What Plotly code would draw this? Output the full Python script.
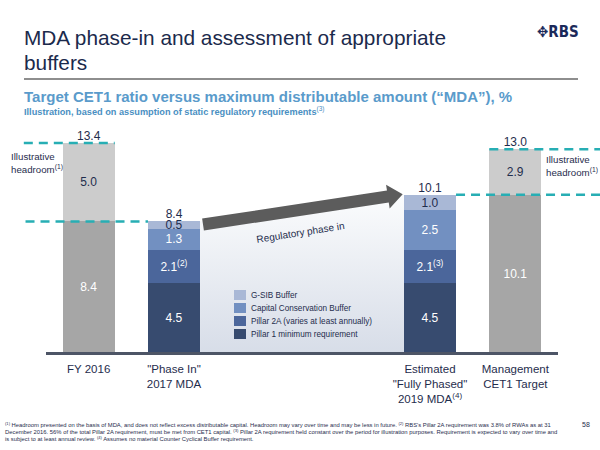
import math
import plotly.graph_objects as go

# ---------------- data ----------------
categories = ["FY 2016", "\"Phase In\"<br>2017 MDA",
              "Estimated<br>\"Fully Phased\"<br>2019 MDA<sup>(4)</sup>",
              "Management<br>CET1 Target"]
x_pos = [0, 1, 4, 5]

grey_x = [0, 5]
cet1_base = [8.4, 10.1]
headroom = [5.0, 2.9]

mda_x = [1, 4]
pillar1 = [4.5, 4.5]
pillar2a = [2.1, 2.1]
pillar2a_notes = ["(2)", "(3)"]
ccb = [1.3, 2.5]
gsib = [0.5, 1.0]

legend_names = ["G-SIB Buffer", "Capital Conservation Buffer",
                "Pillar 2A (varies at least annually)", "Pillar 1 minimum requirement"]

# ---------------- style ----------------
FONT = "Liberation Sans, Arial, sans-serif"
NAVY = "#1f2d4d"
C_P1 = "#374b6f"
C_P2 = "#4b669b"
C_CCB = "#7290c1"
C_GSIB = "#a9b8d6"
C_GREY_D = "#a6a6a6"
C_GREY_L = "#cccccc"
TEAL = "#27aeb4"
W = 0.61
XMIN, XMAX, YMAX = -0.5, 5.5, 15.0
ML, MR, MT, MB = 46, 42, 118, 97
PW, PH = 600 - ML - MR, 450 - MT - MB


def PX(px):
    return (px - ML) / PW


def PY(py):
    return (450 - MB - py) / PH


def xp(x):
    return (x - XMIN) / (XMAX - XMIN)


def yp(y):
    return y / YMAX


mda_tot = [a + b + c + d for a, b, c, d in zip(pillar1, pillar2a, ccb, gsib)]
grey_tot = [a + b for a, b in zip(cet1_base, headroom)]
totals = {x: t for x, t in zip(grey_x, grey_tot)}
totals.update({x: t for x, t in zip(mda_x, mda_tot)})

fig = go.Figure()

# gradient panel between phase-in and fully phased bars
fig.add_trace(go.Scatter(
    x=[mda_x[0] + W / 2, mda_x[1] - W / 2, mda_x[1] - W / 2, mda_x[0] + W / 2],
    y=[0, 0, mda_tot[1], mda_tot[0]],
    fill="toself", mode="lines", line=dict(width=0),
    fillgradient=dict(type="vertical",
                      colorscale=[[0, "#d7dde8"], [1, "#fbfcfd"]]),
    hoverinfo="skip", showlegend=False))


def bar(x, y, color, text, tcolor, name):
    fig.add_trace(go.Bar(
        x=x, y=y, width=W, marker=dict(color=color, line=dict(width=0)),
        text=text, textposition="inside", insidetextanchor="middle",
        textangle=0, constraintext="none",
        textfont=dict(family=FONT, size=12, color=tcolor),
        name=name, showlegend=False, hoverinfo="skip"))


bar(grey_x, cet1_base, C_GREY_D, [f"{v:.1f}" for v in cet1_base], "white", "CET1")
bar(grey_x, headroom, C_GREY_L, [f"{v:.1f}" for v in headroom], NAVY, "Headroom")
bar(mda_x, pillar1, C_P1, [f"{v:.1f}" for v in pillar1], "white", legend_names[3])
bar(mda_x, pillar2a, C_P2,
    [f"{v:.1f}<sup>{n}</sup>" for v, n in zip(pillar2a, pillar2a_notes)], "white",
    legend_names[2])
bar(mda_x, ccb, C_CCB, [f"{v:.1f}" for v in ccb], "white", legend_names[1])
bar(mda_x, gsib, C_GSIB, [f"{v:.1f}" for v in gsib], NAVY, legend_names[0])

# totals above bars
tx = sorted(totals)
fig.add_trace(go.Scatter(
    x=tx, y=[totals[x] for x in tx], mode="text",
    text=[f"{totals[x]:.1f}" for x in tx], textposition="top center",
    textfont=dict(family=FONT, size=12, color=NAVY),
    hoverinfo="skip", showlegend=False))

shapes = []
ann = []

# title rule
shapes.append(dict(type="line", xref="paper", yref="paper",
                   x0=PX(24), x1=PX(578), y0=PY(79), y1=PY(79),
                   line=dict(color="#8e8e8e", width=2)))

# baseline
shapes.append(dict(type="line", xref="paper", yref="paper",
                   x0=0, x1=1, y0=0, y1=0,
                   line=dict(color="#4d5566", width=2), layer="above"))

# dashed headroom lines
dash = dict(color=TEAL, width=2.5, dash="9px,6px")
for x0, x1, y in [(-0.76, grey_x[0] + W / 2, grey_tot[0]),
                  (-0.74, mda_x[0] - W / 2, cet1_base[0]),
                  (grey_x[1] - W / 2, 6.24, grey_tot[1]),
                  (mda_x[1] + W / 2, 6.24, cet1_base[1])]:
    shapes.append(dict(type="line", xref="paper", yref="paper",
                       x0=xp(x0), x1=xp(x1), y0=yp(y), y1=yp(y), line=dash, layer="above"))

# arrow (regulatory phase in)
sx, sy = PW / (XMAX - XMIN), PH / YMAX
start = (1.34, 8.2)
tip = (3.68, 10.13)
S = (start[0] * sx, start[1] * sy)
T = (tip[0] * sx, tip[1] * sy)
L = math.hypot(T[0] - S[0], T[1] - S[1])
d = ((T[0] - S[0]) / L, (T[1] - S[1]) / L)
n = (-d[1], d[0])
B = (T[0] - 15 * d[0], T[1] - 15 * d[1])
pts = [(S[0] + 6 * n[0], S[1] + 6 * n[1]), (B[0] + 6 * n[0], B[1] + 6 * n[1]),
       (B[0] + 12 * n[0], B[1] + 12 * n[1]), T,
       (B[0] - 12 * n[0], B[1] - 12 * n[1]), (B[0] - 6 * n[0], B[1] - 6 * n[1]),
       (S[0] - 6 * n[0], S[1] - 6 * n[1])]
path = "M " + " L ".join(f"{p[0] / sx:.4f},{p[1] / sy:.4f}" for p in pts) + " Z"
shapes.append(dict(type="path", xref="x", yref="y", path=path,
                   fillcolor="#5c5c5c", line=dict(width=0), layer="above"))

ann.append(dict(x=2.48, y=7.7, xref="x", yref="y", text="Regulatory phase in",
                showarrow=False, textangle=-9,
                font=dict(family=FONT, size=10, color=NAVY)))

# custom legend
leg_colors = [C_GSIB, C_CCB, C_P2, C_P1]
for i, (nm, c) in enumerate(zip(legend_names, leg_colors)):
    yc = 295 + 13 * i
    shapes.append(dict(type="rect", xref="paper", yref="paper",
                       x0=PX(234), x1=PX(246), y0=PY(yc - 5), y1=PY(yc + 5),
                       fillcolor=c, line=dict(width=0), layer="above"))
    ann.append(dict(x=PX(249), y=PY(yc), xref="paper", yref="paper", text=nm,
                    showarrow=False, xanchor="left", yanchor="middle",
                    font=dict(family=FONT, size=8.2, color=NAVY)))

# illustrative headroom labels
for x, y in [(9, 163), (544, 166)]:
    ann.append(dict(x=PX(x), y=PY(y), xref="paper", yref="paper",
                    text="Illustrative<br>headroom<sup>(1)</sup>", showarrow=False,
                    xanchor="left", yanchor="middle", align="left",
                    font=dict(family=FONT, size=9.7, color=NAVY)))

# titles
ann.append(dict(x=PX(22), y=PY(38), xref="paper", yref="paper",
                text="MDA phase-in and assessment of appropriate", showarrow=False,
                xanchor="left", yanchor="middle",
                font=dict(family=FONT, size=20.8, color="#1b2a4c")))
ann.append(dict(x=PX(22), y=PY(62), xref="paper", yref="paper",
                text="buffers", showarrow=False, xanchor="left", yanchor="middle",
                font=dict(family=FONT, size=20.8, color="#1b2a4c")))
ann.append(dict(x=PX(22), y=PY(96), xref="paper", yref="paper",
                text="<b>Target CET1 ratio versus maximum distributable amount (\u201cMDA\u201d), %</b>",
                showarrow=False, xanchor="left", yanchor="middle",
                font=dict(family=FONT, size=15, color="#5a9bcb")))
ann.append(dict(x=PX(22), y=PY(111), xref="paper", yref="paper",
                text="<b>Illustration, based on assumption of static regulatory requirements</b><sup>(3)</sup>",
                showarrow=False, xanchor="left", yanchor="middle",
                font=dict(family=FONT, size=9.2, color="#4a8fc2")))

# logo
ann.append(dict(x=PX(581), y=PY(32), xref="paper", yref="paper",
                text="<b>\u2725RBS</b>", showarrow=False, xanchor="right", yanchor="middle",
                font=dict(family="DejaVu Sans Condensed, DejaVu Sans", size=15, color="#1b2a5a")))

# footnotes
foot = [
    "<sup>(1)</sup> Headroom presented on the basis of MDA, and does not reflect excess distributable capital. Headroom may vary over time and may be less in future. <sup>(2)</sup> RBS's Pillar 2A requirement was 3.8% of RWAs as at 31",
    "December 2016. 56% of the total Pillar 2A requirement, must be met from CET1 capital. <sup>(3)</sup> Pillar 2A requirement held constant over the period for illustration purposes. Requirement is expected to vary over time and",
    "is subject to at least annual review. <sup>(4)</sup> Assumes no material Counter Cyclical Buffer requirement.",
]
for i, t in enumerate(foot):
    ann.append(dict(x=PX(3), y=PY(424 + 7 * i), xref="paper", yref="paper", text=t,
                    showarrow=False, xanchor="left", yanchor="middle",
                    font=dict(family=FONT, size=5.85, color=NAVY)))
ann.append(dict(x=PX(586), y=PY(424), xref="paper", yref="paper", text="58",
                showarrow=False, xanchor="center", yanchor="middle",
                font=dict(family=FONT, size=7, color=NAVY)))

fig.update_layout(
    width=600, height=450, margin=dict(l=ML, r=MR, t=MT, b=MB),
    paper_bgcolor="white", plot_bgcolor="white", barmode="stack",
    showlegend=False, shapes=shapes, annotations=ann,
    font=dict(family=FONT, color=NAVY),
    xaxis=dict(range=[XMIN, XMAX], tickvals=x_pos, ticktext=categories,
               showgrid=False, zeroline=False, showline=True, linecolor="#4d5566",
               linewidth=2, ticks="", ticklabelstandoff=4,
               tickfont=dict(family=FONT, size=11.5, color=NAVY),
               fixedrange=True),
    yaxis=dict(range=[0, YMAX], visible=False, fixedrange=True),
)

fig.write_html("out.html", config={"displayModeBar": False},
               post_script="document.body.style.margin='0px';document.body.style.padding='0px';")
